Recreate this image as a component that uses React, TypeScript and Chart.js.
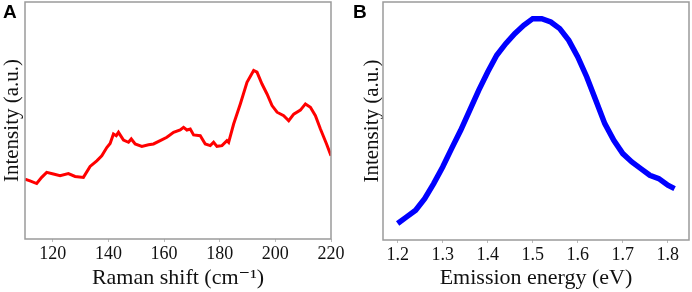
import React, { useEffect, useRef } from "react";
import { Chart, registerables } from "chart.js";

Chart.register(...registerables);

// Panel A: Raman spectrum
const ramanShift = [110, 111.8, 114.2, 116, 117.8, 120.2, 122.6, 125.6, 128, 131, 133.4, 135.8, 137.6, 139.4, 140.6, 141.8, 142.8, 143.6, 145.4, 147.2, 148.2, 149.6, 152, 154.4, 156.2, 158.6, 161, 163.4, 165.8, 167, 168.2, 169.4, 170.6, 173, 174.8, 176.6, 177.8, 179, 180.8, 182.6, 183.2, 185, 187.4, 189.8, 192.2, 193.4, 195.2, 197, 198.8, 200.6, 203, 204.8, 206.6, 209, 210.8, 212.6, 214.4, 216.2, 218.4, 220];
const ramanIntensity = [25.2, 24.5, 23.4, 26.0, 28.1, 27.4, 26.7, 27.6, 26.4, 26.0, 30.6, 33.0, 35.1, 38.6, 40.3, 44.3, 43.6, 45.0, 41.7, 40.8, 42.2, 40.1, 39.1, 39.8, 40.1, 41.5, 42.9, 45.0, 46.0, 47.1, 46.0, 46.4, 43.9, 43.6, 40.1, 39.4, 40.8, 39.1, 39.4, 41.5, 40.8, 48.5, 57.0, 66.1, 71.1, 70.4, 65.4, 61.2, 56.3, 53.5, 52.0, 49.9, 52.7, 54.4, 57.0, 55.6, 52.0, 46.4, 40.1, 35.1];
const ramanTicks = [120, 140, 160, 180, 200, 220];

// Panel B: photoluminescence spectrum
const emissionEnergy = [1.2, 1.22, 1.24, 1.26, 1.28, 1.3, 1.32, 1.34, 1.36, 1.38, 1.4, 1.42, 1.44, 1.46, 1.48, 1.5, 1.52, 1.54, 1.56, 1.58, 1.6, 1.62, 1.64, 1.66, 1.68, 1.7, 1.72, 1.74, 1.76, 1.78, 1.8, 1.815];
const emissionIntensity = [6.9, 9.7, 12.5, 17.4, 23.7, 30.7, 38.5, 46.1, 54.5, 62.9, 70.6, 77.6, 82.5, 86.7, 90.2, 93.0, 93.0, 91.6, 88.8, 83.9, 76.9, 68.5, 58.7, 48.9, 41.9, 36.3, 32.8, 30.0, 27.2, 25.8, 23.0, 21.6];
const emissionTicks = [1.2, 1.3, 1.4, 1.5, 1.6, 1.7, 1.8];

const SERIF = "'Liberation Serif', 'DejaVu Serif', serif";

const frame = {
  id: "frame",
  afterDraw(chart: any) {
    const a = chart.chartArea;
    const ctx = chart.ctx;
    ctx.save();
    ctx.strokeStyle = "#9a9a9a";
    ctx.lineWidth = 1.5;
    ctx.strokeRect(a.left, a.top, a.right - a.left, a.bottom - a.top);
    ctx.restore();
  },
};

function makeConfig(opts: any) {
  return {
    type: "line",
    data: {
      datasets: [
        {
          data: opts.xs.map((x: number, i: number) => ({ x, y: opts.ys[i] })),
          borderColor: opts.color,
          borderWidth: opts.lw,
          pointRadius: 0,
          tension: 0,
          fill: false,
        },
      ],
    },
    options: {
      animation: false,
      responsive: false,
      maintainAspectRatio: false,
      layout: { padding: { top: 2, right: opts.padRight, left: 0, bottom: 0 } },
      plugins: { legend: { display: false }, tooltip: { enabled: false } },
      scales: {
        x: {
          type: "linear",
          min: opts.xmin,
          max: opts.xmax,
          afterBuildTicks: (s: any) => {
            s.ticks = opts.ticks.map((v: number) => ({ value: v }));
          },
          afterFit: (s: any) => {
            s.height = opts.xh;
          },
          ticks: {
            color: "#111",
            font: { family: SERIF, size: 18 },
            padding: 1,
            maxRotation: 0,
            autoSkip: false,
            callback: (v: number) => opts.fmt(v),
          },
          grid: { display: true, drawOnChartArea: false, tickLength: 3, color: "#bbb" },
          border: { display: false },
          title: {
            display: true,
            text: opts.xtitle,
            color: "#111",
            font: { family: SERIF, size: 22 },
            padding: { top: 0, bottom: 1 },
          },
        },
        y: {
          type: "linear",
          min: 0,
          max: 100,
          afterFit: (s: any) => {
            s.width = opts.yw;
          },
          ticks: { display: false },
          grid: { display: false },
          border: { display: false },
          title: {
            display: true,
            text: "Intensity (a.u.)",
            color: "#111",
            font: { family: SERIF, size: 21 },
            padding: { top: opts.ytp, bottom: 0 },
          },
        },
      },
    },
    plugins: [frame],
  };
}

function Panel(props: any) {
  const ref = useRef<HTMLCanvasElement>(null);
  useEffect(() => {
    const chart = new Chart(ref.current as any, makeConfig(props.opts) as any);
    return () => chart.destroy();
  }, []);
  return (
    <div style={{ position: "absolute", left: props.left, top: 0, width: 346, height: 292 }}>
      <canvas ref={ref} width={346} height={292} style={{ width: 346, height: 292 }} />
      <div
        style={{
          position: "absolute",
          left: props.labelX,
          top: 2,
          lineHeight: "20px",
          fontFamily: "'Liberation Sans', Arial, sans-serif",
          fontWeight: "bold",
          fontSize: 19,
          color: "#000",
        }}
      >
        {props.label}
      </div>
    </div>
  );
}

export default function App() {
  return (
    <div style={{ position: "fixed", left: 0, top: 0, width: 692, height: 292, background: "#fff" }}>
      <Panel
        left={0}
        label="A"
        labelX={3}
        opts={{
          xs: ramanShift,
          ys: ramanIntensity,
          color: "#ff0000",
          lw: 3,
          xmin: 110,
          xmax: 220,
          ticks: ramanTicks,
          fmt: (v: number) => String(v),
          xtitle: "Raman shift (cm\u207B\u00B9)",
          padRight: 15,
          yw: 25,
          xh: 53,
          ytp: 0,
        }}
      />
      <Panel
        left={346}
        label="B"
        labelX={7}
        opts={{
          xs: emissionEnergy,
          ys: emissionIntensity,
          color: "#0000ff",
          lw: 5.5,
          xmin: 1.1675,
          xmax: 1.847,
          ticks: emissionTicks,
          fmt: (v: number) => v.toFixed(1),
          xtitle: "Emission energy (eV)",
          padRight: 3,
          yw: 37,
          xh: 52,
          ytp: 14,
        }}
      />
    </div>
  );
}
